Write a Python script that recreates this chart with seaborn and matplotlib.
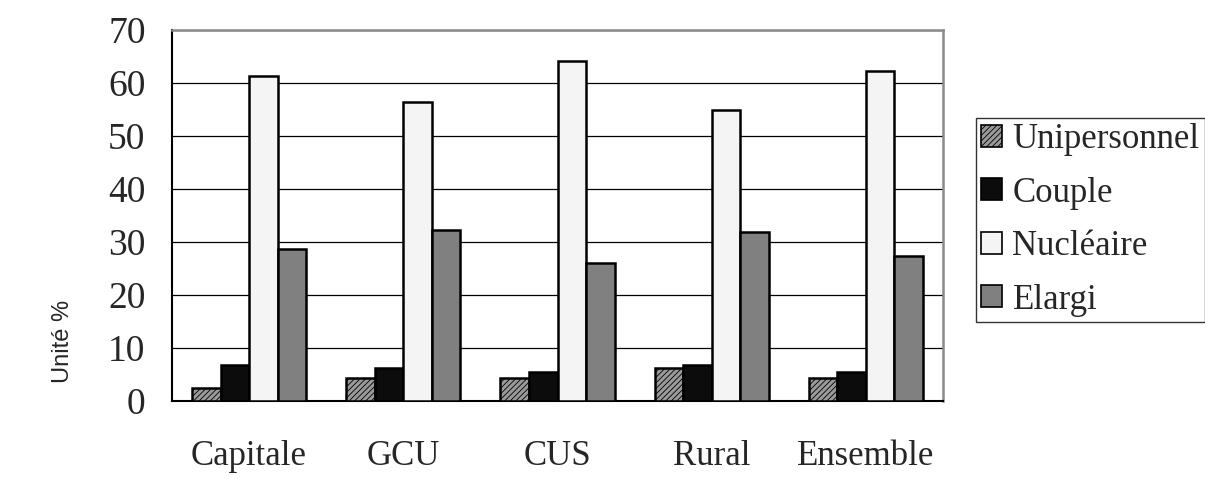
import matplotlib
matplotlib.use("Agg")
import matplotlib.pyplot as plt
from matplotlib.patches import Patch
import seaborn as sns
import pandas as pd

categories = ["Capitale", "GCU", "CUS", "Rural", "Ensemble"]
series = ["Unipersonnel", "Couple", "Nucléaire", "Elargi"]
unipersonnel = [2.5, 4.3, 4.3, 6.2, 4.3]
couple = [6.8, 6.3, 5.4, 6.7, 5.4]
nucleaire = [61.3, 56.4, 64.1, 55.0, 62.3]
elargi = [28.7, 32.3, 26.0, 31.9, 27.4]

colors = ["#9a9a9a", "#0c0c0c", "#f4f4f4", "#808080"]
hatches = ["//////", "", "", ""]

rows = []
for name, vals in zip(series, [unipersonnel, couple, nucleaire, elargi]):
    for cat, v in zip(categories, vals):
        rows.append({"cat": cat, "type": name, "val": v})
df = pd.DataFrame(rows)

sns.set_style("white")
plt.rcParams["hatch.linewidth"] = 0.6
serif = ["Liberation Serif", "DejaVu Serif"]

fig = plt.figure(figsize=(12.05, 4.79), dpi=100)
ax = fig.add_axes([172 / 1205, 1 - 401 / 479, (943 - 172) / 1205, (401 - 30) / 479])

sns.barplot(data=df, x="cat", y="val", hue="type", order=categories, hue_order=series,
            palette=colors, width=0.74, gap=0, ax=ax, legend=False,
            edgecolor="black", linewidth=1.8, zorder=3)

for cont, h in zip(ax.containers, hatches):
    for bar in cont:
        bar.set_hatch(h)

ax.set_xlim(-0.5, 4.5)
ax.set_ylim(0, 70)
ax.set_yticks(range(0, 71, 10))
ax.yaxis.grid(True, color="black", linewidth=0.9, zorder=0)
ax.set_axisbelow(True)

ax.set_xticks(range(len(categories)))
ax.set_xticklabels(categories, family=serif, fontsize=25)
ax.set_xticks([i - 0.5 for i in range(len(categories) + 1)], minor=True)
ax.tick_params(axis="x", which="major", length=0, pad=28)
ax.tick_params(axis="x", which="minor", length=10, width=1.0, color="black", direction="out")
ax.tick_params(axis="y", length=9, width=1.0, color="black", direction="out", pad=10)
for lbl in ax.get_yticklabels():
    lbl.set_family(serif)
    lbl.set_fontsize(27)

for side in ["top", "right"]:
    ax.spines[side].set_visible(True)
    ax.spines[side].set_color("#8a8a8a")
    ax.spines[side].set_linewidth(1.8)
for side in ["left", "bottom"]:
    ax.spines[side].set_color("black")
    ax.spines[side].set_linewidth(1.5)

ax.set_xlabel("")
ax.set_ylabel("")
fig.text(63 / 1205, 1 - 341 / 479, "Unité %", rotation=90, ha="center", va="center",
         family=["Liberation Sans", "DejaVu Sans"], fontsize=17)

handles = [Patch(facecolor=c, edgecolor="black", hatch=h, linewidth=1.2) for c, h in zip(colors, hatches)]
leg = fig.legend(handles, series, loc="upper left", bbox_to_anchor=(976 / 1205, 1 - 118 / 479),
                 prop={"family": serif, "size": 25}, frameon=True, fancybox=False,
                 edgecolor="black", handlelength=0.6, handleheight=0.6, handletextpad=0.3,
                 labelspacing=0.59, borderpad=0.15, borderaxespad=0)
leg.get_frame().set_linewidth(1.0)

fig.savefig("out.png", dpi=100)
plt.close(fig)
